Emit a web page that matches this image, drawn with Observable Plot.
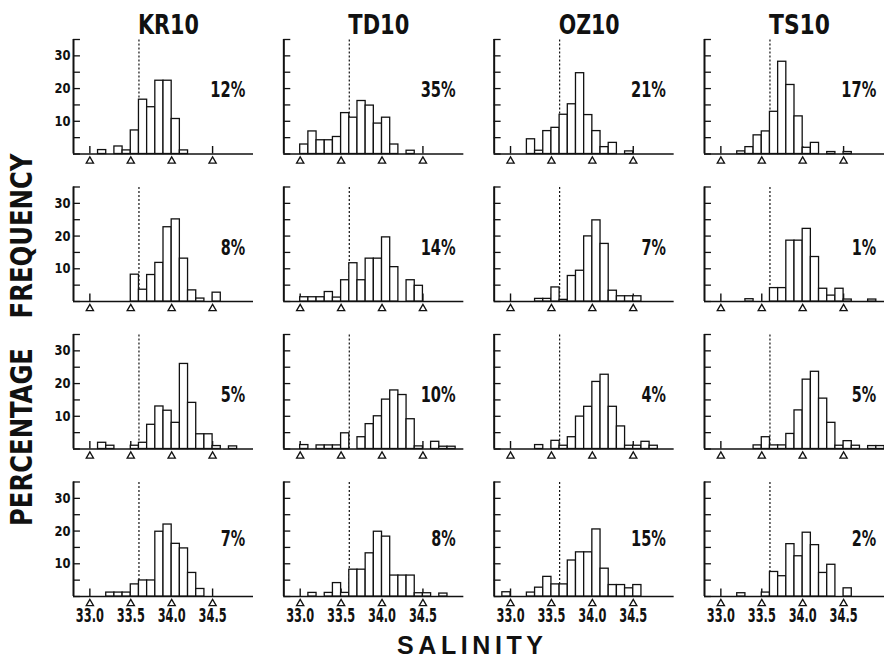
<!DOCTYPE html>
<html><head><meta charset="utf-8">
<script src="https://cdn.jsdelivr.net/npm/d3@7"></script>
<script src="https://cdn.jsdelivr.net/npm/@observablehq/plot@0.6"></script>
<style>
html,body{margin:0;padding:0;background:#fff;}
#wrap{position:relative;width:884px;height:659px;overflow:hidden;background:#fff;}
#wrap > svg{position:absolute;left:0;top:0;}
</style></head><body><div id="wrap"></div>
<script>
// ---------- data ----------
const stations = ["KR10", "TD10", "OZ10", "TS10"];
const rows = [0, 1, 2, 3];
// salinity bin edges (bins 0.1 wide)
const binEdges = [32.9, 33.0, 33.1, 33.2, 33.3, 33.4, 33.5, 33.6, 33.7, 33.8, 33.9,
                  34.0, 34.1, 34.2, 34.3, 34.4, 34.5, 34.6, 34.7, 34.8, 34.9, 35.0];
// percentage frequency per bin, one array per row (top to bottom)
const kr10 = [
  [0,0,1.2,0,2.3,1.1,7.2,16.6,14.3,22.4,22.4,10.7,1.1,0,0,0,0,0,0,0,0],
  [0,0,0,0,0,0,8.2,3.6,8.1,11.8,22.7,25.1,13.1,3.4,0.9,0,2.7,0,0,0,0],
  [0,0,1.9,1.0,0,0,1.0,1.9,7.4,13.0,11.7,8.0,26.0,14.1,4.5,4.5,0.9,0,0.8,0,0],
  [0,0,0,1.2,1.2,1.2,3.7,4.9,4.9,19.8,22.0,16.1,14.7,7.2,2.3,0,0,0,0,0,0]
];
const td10 = [
  [0,2.9,6.9,4.2,4.2,5.2,12.5,11.1,16.2,14.8,9.3,11.1,2.9,0,1.0,0,0,0,0,0,0],
  [0,1.3,1.3,1.3,2.9,1.2,6.5,11.7,6.5,13.1,13.1,19.6,10.5,0,6.5,4.8,0,0,0,0,0],
  [0,1.2,0,1.1,1.1,1.1,4.8,0,3.6,7.6,10.0,15.1,17.9,16.5,9.1,0.8,0,2.2,0.7,0.7,0],
  [0,0,1.1,0,1.1,4.1,1.1,8.2,8.2,13.2,19.8,18.3,6.4,6.4,6.4,1.0,1.0,0,0.9,0,0]
];
const oz10 = [
  [0,0,0,4.5,1.0,7.0,8.0,12.0,15.2,24.7,11.9,7.0,2.1,3.4,0,0.8,0,0,0,0,0],
  [0,0,0,0,0.8,0.8,4.3,0.5,7.8,9.4,19.9,24.8,17.6,3.3,1.6,1.6,1.6,0,0,0,0],
  [0,0,0,0,1.2,0,2.5,1.0,3.6,9.9,12.9,20.5,22.7,12.9,6.9,1.0,1.0,2.2,1.0,0,0],
  [1.3,0,0,1.2,2.7,6.0,3.7,3.7,11.0,13.5,13.5,20.5,8.5,3.5,3.5,2.5,3.5,0,0,0,0]
];
const ts10 = [
  [0,0,0,0.8,2.1,5.7,6.9,12.9,28.2,21.1,11.5,1.9,3.4,0,0.6,0,0.6,0,0,0,0],
  [0,0,0,0,0.7,0,0,4.1,4.1,18.6,18.6,22.2,13.6,3.9,1.8,3.9,0.6,0,0,0.6,0],
  [0,0,0,0,0,1.1,3.6,1.1,1.1,4.6,11.8,21.2,23.6,15.4,8.0,1.0,2.4,1.0,0,0.9,0.9],
  [0,0,0,1.0,0,0,1.2,7.5,6.2,16.0,12.3,19.5,15.7,7.2,9.7,0,2.5,0,0,0,0]
];
// percentage labels per row
const pctKR10 = [12, 8, 5, 7];
const pctTD10 = [35, 14, 10, 8];
const pctOZ10 = [21, 7, 4, 15];
const pctTS10 = [17, 1, 5, 2];
// axis ticks
const salinityTicks = [33.0, 33.5, 34.0, 34.5];
const freqTicks = [0, 5, 10, 15, 20, 25, 30, 35];
const freqLabels = [10, 20, 30];
const refSalinity = 33.6;

// ---------- layout / style constants ----------
const pctLabelY = [19.5, 16.3, 16.3, 17.5];
const bold = "'DejaVu Sans Condensed','Liberation Sans Narrow','DejaVu Sans',sans-serif";
const ink = "#111";

// ---------- tables ----------
const countsBy = {KR10: kr10, TD10: td10, OZ10: oz10, TS10: ts10};
const pctBy = {KR10: pctKR10, TD10: pctTD10, OZ10: pctOZ10, TS10: pctTS10};
const bars = [];
const labels = [];
for (const s of stations) {
  for (const r of rows) {
    countsBy[s][r].forEach((c, i) => {
      if (c > 0) bars.push({station: s, row: r, x1: binEdges[i], x2: binEdges[i + 1], count: c});
    });
    labels.push({station: s, row: r, pct: pctBy[s][r]});
  }
}

const chart = Plot.plot({
  width: 884,
  height: 659,
  marginLeft: 73,
  marginRight: 0,
  marginTop: 39,
  marginBottom: 63,
  style: {fontFamily: bold, color: ink, background: "white", overflow: "visible"},
  x: {domain: [32.8, 35.0]},
  y: {domain: [0, 35]},
  fx: {domain: stations, paddingInner: 0.1442, paddingOuter: 0, round: false},
  fy: {domain: rows, paddingInner: 0.2237, paddingOuter: 0, round: false, axis: null},
  marks: [
    Plot.axisFx({anchor: "top", tickSize: 0, tickPadding: 6, fontSize: 27, fontWeight: "bold", label: null, dx: 5}),
    Plot.axisY(freqLabels, {anchor: "left", tickSize: 0, tickPadding: 3, fontSize: 14, fontWeight: "bold", label: null}),
    Plot.axisX(salinityTicks, {anchor: "bottom", tickSize: 0, tickPadding: 12, fontSize: 19, fontWeight: "bold", label: null, tickFormat: d => d.toFixed(1)}),
    Plot.ruleY(freqTicks, {x1: 32.8, x2: 32.885, stroke: ink, strokeWidth: 1.3}),
    Plot.ruleX([32.8], {y1: 0, y2: 35, stroke: ink, strokeWidth: 2}),
    Plot.ruleY([0], {x1: 32.8, x2: 35.0, stroke: ink, strokeWidth: 1.6}),
    Plot.ruleX(salinityTicks, {y1: 0, y2: 2.3, stroke: ink, strokeWidth: 1.4}),
    Plot.ruleX([refSalinity], {y1: 0, y2: 35, stroke: ink, strokeWidth: 1.2, strokeDasharray: "2,2"}),
    Plot.rectY(bars, {fx: "station", fy: "row", x1: "x1", x2: "x2", y: "count", fill: "white", stroke: ink, strokeWidth: 1.3}),
    Plot.dot(salinityTicks, {x: d => d, y: 0, dy: 7, symbol: "triangle", r: 2.7, fill: "white", stroke: ink, strokeWidth: 1.3}),
    Plot.text(labels, {fx: "station", fy: "row", x: 34.9, y: d => pctLabelY[d.row], text: d => d.pct + "%", textAnchor: "end", fontSize: 21, fontWeight: "bold"})
  ]
});

// condense the text glyphs to the narrow widths of the original lettering
function squeeze(selector, widthOf) {
  chart.querySelectorAll(selector).forEach(t => {
    const w = widthOf(t.textContent);
    if (w) { t.setAttribute("textLength", w); t.setAttribute("lengthAdjust", "spacingAndGlyphs"); }
  });
}
squeeze('g[aria-label="fx-axis tick label"] text', () => 61);
squeeze('g[aria-label="y-axis tick label"] text', () => 16);
squeeze('g[aria-label="x-axis tick label"] text', () => 28);
squeeze('g[aria-label="text"] text', s => 10.5 * (s.length - 1) + 14);

const wrap = document.getElementById("wrap");
wrap.appendChild(chart);

// ---------- outer axis titles ----------
const ns = "http://www.w3.org/2000/svg";
const ov = document.createElementNS(ns, "svg");
ov.setAttribute("width", 884);
ov.setAttribute("height", 659);
ov.style.pointerEvents = "none";
function addText(str, attrs) {
  const t = document.createElementNS(ns, "text");
  for (const k in attrs) t.setAttribute(k, attrs[k]);
  t.textContent = str;
  ov.appendChild(t);
}
addText("PERCENTAGE", {transform: "translate(21,437) rotate(-90)", "text-anchor": "middle", "dominant-baseline": "central",
  "font-family": bold, "font-weight": "bold", "font-size": 30, fill: ink, textLength: 178, lengthAdjust: "spacingAndGlyphs"});
addText("FREQUENCY", {transform: "translate(21,236) rotate(-90)", "text-anchor": "middle", "dominant-baseline": "central",
  "font-family": bold, "font-weight": "bold", "font-size": 30, fill: ink, textLength: 165, lengthAdjust: "spacingAndGlyphs"});
addText("SALINITY", {x: 470, y: 654, "text-anchor": "middle",
  "font-family": "'Liberation Sans','DejaVu Sans',sans-serif", "font-weight": "bold", "font-size": 25, fill: ink, textLength: 146, lengthAdjust: "spacing"});
wrap.appendChild(ov);
</script>
</body></html>
